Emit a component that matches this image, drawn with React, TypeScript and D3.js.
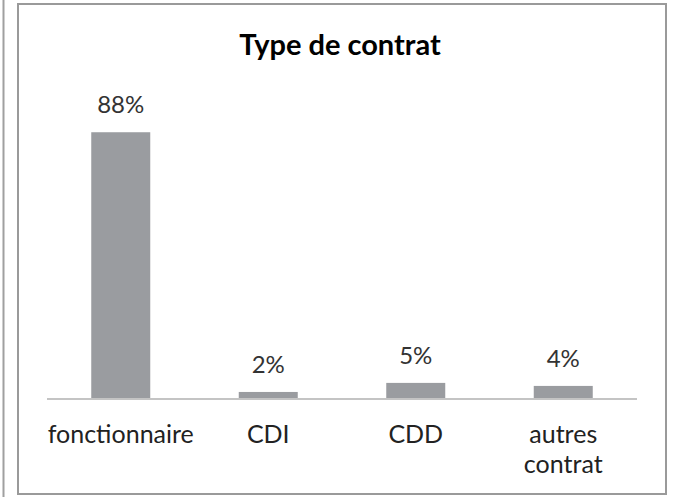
import React from "react";
import * as d3 from "d3";

const categories: string[][] = [["fonctionnaire"], ["CDI"], ["CDD"], ["autres", "contrat"]];
const values: number[] = [88, 2, 5, 4];
const valueLabels: string[] = ["88%", "2%", "5%", "4%"];
const title = "Type de contrat";

const W = 677;
const H = 497;
const FONT = "Lato, 'Open Sans', sans-serif";

export default function App() {
  const x = d3
    .scaleBand<number>()
    .domain(values.map((_, i) => i))
    .range([47, 637])
    .paddingInner(0.6)
    .paddingOuter(0.3);
  const y = d3.scaleLinear().domain([0, 100]).range([398, 96]);

  return (
    <svg
      width={W}
      height={H}
      style={{ position: "absolute", left: 0, top: 0, background: "#fff" }}
    >
      <line x1={3.5} y1={0} x2={3.5} y2={H} stroke="#a0a0a0" strokeWidth={2} />
      <rect x={18} y={4} width={648} height={490} fill="#fff" stroke="#9a9a9a" strokeWidth={2} />
      <text
        x={340}
        y={55}
        textAnchor="middle"
        fontFamily={FONT}
        fontWeight="bold"
        fontSize={29}
        fill="#000"
      >
        {title}
      </text>
      {values.map((v, i) => (
        <rect
          key={"b" + i}
          x={x(i)}
          y={y(v)}
          width={x.bandwidth()}
          height={y(0) - y(v)}
          fill="#9a9ca0"
        />
      ))}
      <line x1={47} x2={637} y1={y(0) + 1} y2={y(0) + 1} stroke="#c4c4c4" strokeWidth={2} />
      {values.map((v, i) => (
        <text
          key={"v" + i}
          x={(x(i) as number) + x.bandwidth() / 2}
          y={y(v) - 19}
          textAnchor="middle"
          fontFamily={FONT}
          fontSize={24}
          fill="#333"
        >
          {valueLabels[i]}
        </text>
      ))}
      {categories.map((lines, i) => (
        <text
          key={"c" + i}
          x={(x(i) as number) + x.bandwidth() / 2}
          y={443}
          textAnchor="middle"
          fontFamily={FONT}
          fontSize={25}
          fill="#222"
        >
          {lines.map((l, j) => (
            <tspan key={j} x={(x(i) as number) + x.bandwidth() / 2} dy={j === 0 ? 0 : 30}>
              {l}
            </tspan>
          ))}
        </text>
      ))}
    </svg>
  );
}
